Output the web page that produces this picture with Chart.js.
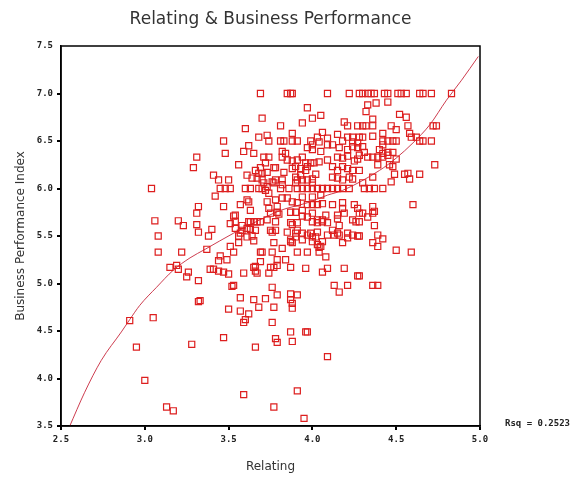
<!DOCTYPE html>
<html>
<head>
<meta charset="utf-8">
<script src="https://cdn.jsdelivr.net/npm/chart.js@4/dist/chart.umd.min.js"></script>
<style>
  html, body { margin: 0; padding: 0; background: #fff; }
  #wrap { width: 582px; height: 478px; }
</style>
</head>
<body>
<div id="wrap"><canvas id="c" width="582" height="478"></canvas></div>
<script>
// Labels
const chartTitle = 'Relating & Business Performance';
const xTitle = 'Relating';
const yTitle = 'Business Performance Index';
const rSquared = 0.2523;

// Respondent scores: Relating (x) and Business Performance Index (y)
const relating = [
  3.69,3.85,3.87,3.88,4.09,4.22,4.28,4.30,4.33,4.35,
  4.37,4.43,4.45,4.51,4.53,4.56,4.64,4.66,4.71,4.83,
  3.70,3.60,3.68,3.73,3.74,3.47,3.59,3.62,3.65,3.48,
  3.31,3.71,3.74,3.29,3.56,3.72,3.66,3.69,3.68,3.73,
  3.77,3.41,3.44,3.50,3.61,3.70,3.71,3.73,3.77,3.68,
  3.04,3.45,3.48,3.51,3.60,3.63,3.42,3.61,3.62,3.57,
  3.73,3.78,3.47,3.32,3.31,3.54,3.63,3.74,3.75,3.79,
  3.06,3.20,3.23,3.31,3.32,3.40,3.38,3.51,3.54,3.58,
  3.61,3.62,3.65,3.67,3.69,3.57,3.61,3.65,3.76,3.77,
  3.78,3.08,3.08,3.22,3.37,3.51,3.56,3.53,3.45,3.44,
  3.49,3.69,3.76,3.69,3.15,3.19,3.20,3.26,3.25,3.39,
  3.41,3.44,3.47,3.50,3.59,3.65,3.66,3.67,3.74,3.77,
  3.79,3.32,3.52,3.53,3.76,3.79,3.57,3.72,3.32,3.33,
  3.50,3.57,3.62,3.60,3.59,3.68,3.77,3.76,3.05,2.91,
  2.95,3.28,3.47,3.66,3.78,3.79,3.00,3.59,3.77,3.13,
  3.17,
  4.60,3.79,3.88,3.94,4.00,4.06,4.12,4.18,4.18,4.25,
  4.27,4.36,4.36,4.33,4.28,4.24,3.87,3.90,3.97,4.00,
  4.03,4.06,4.08,4.15,4.15,4.19,4.16,4.12,4.09,4.15,
  4.16,4.21,4.24,4.27,4.28,4.37,4.39,4.42,4.36,4.39,
  4.50,4.59,3.85,3.87,3.90,3.94,3.99,4.00,4.05,4.04,
  4.08,3.82,3.70,3.79,3.84,3.87,3.96,4.06,4.09,4.19,
  4.27,4.28,4.13,4.21,4.16,4.36,4.39,3.87,3.88,3.88,
  3.91,3.87,3.88,3.96,3.97,4.09,3.91,3.95,4.30,4.37,
  4.26,4.28,4.13,4.21,4.18,
  3.97,4.05,4.00,3.94,3.81,3.88,4.06,4.03,4.09,4.09,
  3.81,3.83,3.88,3.91,3.99,4.00,4.04,3.97,4.00,4.05,
  3.82,3.84,3.85,3.82,3.88,3.91,3.94,3.96,3.99,4.01,
  4.04,4.09,3.70,3.78,3.83,3.88,3.90,3.93,3.96,3.97,
  4.02,3.64,3.67,3.76,3.78,3.82,3.82,3.90,3.91,3.93,
  3.90,3.94,3.97,4.00,4.00,3.70,3.72,3.81,3.86,3.91,
  3.94,3.97,4.00,4.03,4.06,4.09,
  4.33,4.38,4.45,4.32,4.52,4.56,4.19,4.21,4.27,4.30,
  4.32,4.36,4.36,4.47,4.50,4.57,4.72,4.74,4.15,4.58,
  4.59,4.62,4.42,4.18,4.21,4.24,4.24,4.27,4.28,4.30,
  4.36,4.42,4.45,4.48,4.50,4.42,4.64,4.66,4.71,4.12,
  4.16,4.21,4.24,4.27,4.30,4.31,4.28,4.40,4.42,4.45,
  4.48,4.15,4.18,4.21,4.27,4.25,4.33,4.36,4.39,4.42,
  4.45,4.50,4.46,4.48,4.39,4.73,4.12,4.15,4.18,4.21,
  4.24,4.28,4.49,4.55,4.58,4.64,4.12,4.15,4.18,4.22,
  4.24,4.36,4.47,4.30,4.12,4.15,4.18,4.22,4.31,4.34,
  4.37,4.42,4.57,
  3.74,3.80,3.82,3.85,3.91,3.94,4.00,3.97,4.03,4.05,
  3.94,4.00,4.03,4.06,4.09,3.87,3.88,3.91,3.91,3.53,
  3.54,3.58,3.63,3.73,3.63,3.66,3.75,3.78,3.90,3.87,
  3.94,3.97,4.00,4.02,4.03,3.88,4.03,4.06,3.56,3.64,
  3.91,3.97,4.04,3.66,3.75,3.87,3.65
];

const performanceIndex = [
  7.00,7.00,7.00,7.00,7.00,7.00,7.00,7.00,7.00,7.00,
  7.00,7.00,7.00,7.00,7.00,7.00,7.00,7.00,7.00,7.00,
  6.74,6.63,6.54,6.56,6.50,6.50,6.39,6.45,6.37,6.37,
  6.33,6.33,6.33,6.22,6.25,6.27,6.19,6.22,6.16,6.17,
  6.22,6.14,6.09,6.09,6.14,6.09,6.06,6.02,6.06,6.00,
  6.00,6.00,6.00,6.00,6.00,6.00,5.92,5.88,5.86,5.83,
  5.86,5.88,5.81,5.81,5.74,5.72,5.77,5.79,5.74,5.75,
  5.66,5.66,5.61,5.62,5.54,5.57,5.50,5.63,5.58,5.61,
  5.58,5.65,5.65,5.65,5.65,5.53,5.49,5.45,5.54,5.43,
  5.65,5.50,5.33,5.33,5.36,5.39,5.43,5.33,5.29,5.24,
  5.25,5.33,5.33,5.23,5.17,5.19,5.15,5.12,5.07,5.15,
  5.15,5.13,5.12,5.10,5.11,5.17,5.13,5.11,5.11,5.17,
  5.19,5.03,4.97,4.98,4.96,4.88,4.85,4.84,4.81,4.82,
  4.73,4.71,4.68,4.62,4.59,4.75,4.75,4.59,4.64,4.61,
  4.33,4.36,4.43,4.33,4.42,4.38,3.98,3.83,3.70,3.70,
  3.66,
  5.83,5.81,5.86,5.77,5.83,5.84,5.83,5.85,5.79,5.83,
  5.79,5.81,5.74,5.70,5.74,5.67,5.75,5.75,5.70,5.74,
  5.67,5.67,5.72,5.72,5.68,5.74,5.61,5.56,5.51,5.53,
  5.51,5.53,5.51,5.50,5.50,5.61,5.51,5.47,5.43,5.39,
  5.35,5.33,5.54,5.44,5.53,5.46,5.53,5.44,5.39,5.33,
  5.28,5.37,5.33,5.25,5.25,5.17,5.16,5.12,5.16,5.16,
  5.08,5.08,4.98,4.98,4.91,4.98,4.98,4.83,4.79,4.74,
  4.88,4.49,4.39,4.49,4.49,4.23,3.87,3.58,5.74,5.76,
  5.65,5.65,5.51,5.48,5.43,
  6.85,6.77,6.74,6.69,6.66,6.58,6.59,6.54,6.53,6.46,
  6.50,6.50,6.50,6.50,6.50,6.46,6.49,6.43,6.41,6.39,
  6.39,6.37,6.30,6.33,6.29,6.30,6.33,6.27,6.27,6.27,
  6.28,6.30,6.16,6.22,6.17,6.21,6.23,6.21,6.19,6.23,
  6.15,6.11,6.11,6.07,6.09,6.09,6.04,6.12,6.09,6.14,
  6.06,6.09,6.09,6.10,6.06,6.00,5.98,6.00,6.00,6.00,
  6.00,6.00,6.00,6.00,6.00,6.00,
  6.88,6.90,6.91,6.81,6.78,6.75,6.70,6.66,6.66,6.66,
  6.66,6.73,6.66,6.66,6.62,6.66,6.66,6.66,6.57,6.58,
  6.54,6.54,6.58,6.50,6.54,6.54,6.49,6.48,6.54,6.54,
  6.55,6.50,6.50,6.50,6.50,6.46,6.50,6.50,6.50,6.46,
  6.43,6.41,6.44,6.43,6.44,6.38,6.35,6.41,6.37,6.38,
  6.38,6.33,6.32,6.34,6.31,6.29,6.33,6.33,6.33,6.33,
  6.35,6.31,6.25,6.23,6.25,6.25,6.23,6.19,6.23,6.21,
  6.19,6.19,6.15,6.15,6.10,6.15,6.12,6.11,6.09,6.12,
  6.10,6.12,6.07,6.06,6.00,6.00,6.00,6.00,6.00,6.00,
  6.00,6.00,6.16,
  5.95,5.73,5.90,5.90,5.85,5.91,5.91,5.83,5.83,5.93,
  5.71,5.65,5.64,5.65,5.64,5.64,5.62,5.64,5.56,5.71,
  5.65,5.56,5.65,5.67,5.57,5.56,5.56,5.56,5.49,5.46,
  5.53,5.51,5.49,5.49,5.54,5.43,5.41,5.44,5.50,5.50,
  5.33,5.33,5.38,5.18,5.17,4.89,4.83
];

// Fitted curve, sampled along Relating
const fitRelating   = [2.55,2.64,2.74,2.86,2.91,2.97,3.07,3.17,3.27,3.36,3.53,3.71,3.81,3.97,4.09,4.18,4.40,4.50,4.60,4.70,4.80,4.89,4.99];
const fitPerformance = [3.49,3.85,4.19,4.49,4.62,4.77,4.96,5.14,5.27,5.36,5.53,5.69,5.77,5.85,5.93,5.98,6.19,6.32,6.48,6.67,6.93,7.14,7.39];

const scatterPoints = relating.map((x, i) => ({ x: x, y: performanceIndex[i] }));
const fitPoints = fitRelating.map((x, i) => ({ x: x, y: fitPerformance[i] }));

const tickFont = { family: 'DejaVu Sans Mono', size: 9, weight: 'bold' };
const axisTitleFont = { family: 'DejaVu Sans', size: 12 };

// Closed frame around the plot, the heading and the R-squared note
const frameAndNotes = {
  id: 'frameAndNotes',
  afterDraw(chart) {
    const { ctx, chartArea: a } = chart;
    ctx.save();
    ctx.strokeStyle = '#000';
    ctx.lineWidth = 1.5;
    ctx.strokeRect(a.left, a.top, a.right - a.left, a.bottom - a.top);
    ctx.fillStyle = '#333';
    ctx.font = '17px "DejaVu Sans"';
    ctx.textAlign = 'center';
    ctx.textBaseline = 'middle';
    ctx.fillText(chartTitle, (a.left + a.right) / 2, 20);
    ctx.font = 'bold 9px "DejaVu Sans Mono"';
    ctx.textAlign = 'left';
    ctx.fillStyle = '#222';
    ctx.fillText('Rsq = ' + rSquared.toFixed(4), a.right + 25, a.bottom - 2);
    ctx.restore();
  }
};

function axis(min, max, title, fitFn, hideMarkAt) {
  return {
    type: 'linear',
    min: min,
    max: max,
    ticks: {
      stepSize: 0.5,
      callback: v => Number(v).toFixed(1),
      font: tickFont,
      color: '#222',
      padding: 4
    },
    grid: {
      display: true,
      drawOnChartArea: false,
      drawTicks: true,
      tickLength: 4,
      color: c => (c.tick && c.tick.value === hideMarkAt) ? 'rgba(0,0,0,0)' : '#000',
      lineWidth: 2
    },
    border: { display: true, color: '#000', width: 1.5 },
    title: {
      display: true,
      text: title,
      font: axisTitleFont,
      color: '#333',
      padding: { top: 14, bottom: 4 }
    },
    afterFit: fitFn
  };
}

new Chart(document.getElementById('c'), {
  type: 'scatter',
  data: {
    datasets: [
      {
        type: 'line',
        data: fitPoints,
        borderColor: 'rgba(200,40,60,0.9)',
        borderWidth: 1,
        pointRadius: 0,
        cubicInterpolationMode: 'monotone',
        fill: false,
        order: 2
      },
      {
        data: scatterPoints,
        pointStyle: 'rect',
        pointRadius: 4.3,
        borderColor: '#dd1f1f',
        borderWidth: 1.2,
        backgroundColor: 'rgba(0,0,0,0)',
        order: 1
      }
    ]
  },
  options: {
    responsive: false,
    animation: false,
    events: [],
    layout: { padding: { top: 46, right: 102, left: 0, bottom: 0 } },
    plugins: {
      legend: { display: false },
      tooltip: { enabled: false },
      title: { display: false }
    },
    scales: {
      x: axis(2.5, 5.0, xTitle, s => { s.height = 52; }, null),
      y: axis(3.5, 7.5, yTitle, s => { s.width = 61; }, 7.5)
    }
  },
  plugins: [frameAndNotes]
});
</script>
</body>
</html>
